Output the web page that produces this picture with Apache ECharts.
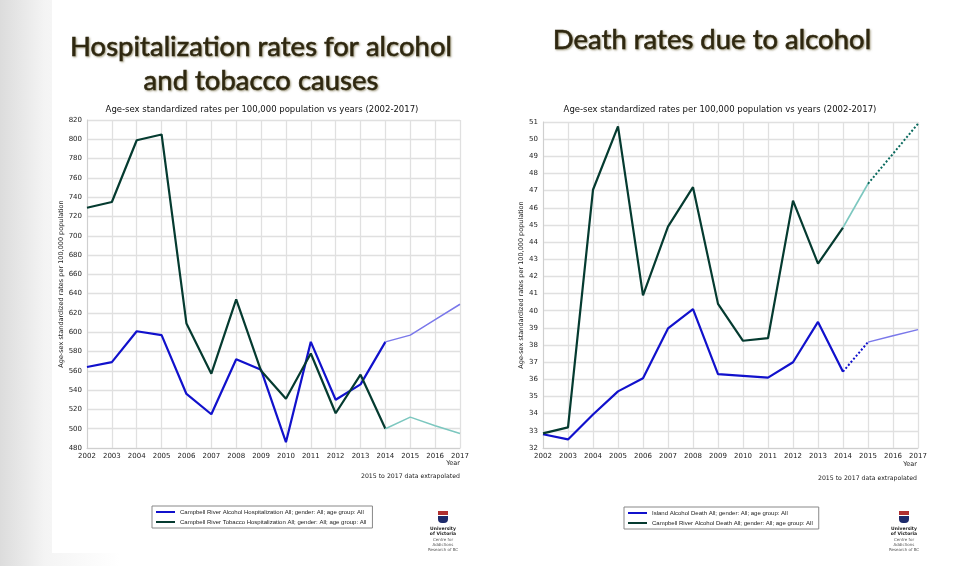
<!DOCTYPE html>
<html>
<head>
<meta charset="utf-8">
<script src="https://cdn.jsdelivr.net/npm/echarts@6/dist/echarts.min.js"></script>
<style>
html,body{margin:0;padding:0;}
body{width:960px;height:566px;background:linear-gradient(to right,#dcdcdc 0px,#f4f4f4 45px,#ffffff 120px,#ffffff 100%);}
#c{width:960px;height:566px;}
</style>
</head>
<body>
<div id="c"></div>
<script>
// ---- data ----
var years = ['2002','2003','2004','2005','2006','2007','2008','2009','2010','2011','2012','2013','2014','2015','2016','2017'];
var hospAlcohol = [564, 569, 601, 597, 536, 515, 572, 561, 486, 590, 530, 546, 590, 597, 613, 629];
var hospTobacco = [729, 735, 799, 805, 609, 557, 634, 560, 531, 578, 516, 556, 500, 512, 503, 495];
var deathIsland = [32.8, 32.5, 33.95, 35.3, 36.07, 38.97, 40.1, 36.3, 36.2, 36.1, 37.0, 39.35, 36.45, 38.17, 38.54, 38.9];
var deathCampbell = [32.85, 33.2, 47.05, 50.75, 40.9, 44.9, 47.2, 40.4, 38.25, 38.4, 46.42, 42.75, 44.85, 47.4, 49.15, 50.9];
var leftTicksMin = 480, leftTicksMax = 820, leftTicksStep = 20;
var rightTicksMin = 32, rightTicksMax = 51, rightTicksStep = 1;

var lastActual = 12; // index of 2014
function part(arr, from, to){ return arr.map(function(v,i){ return (i>=from && i<=to) ? v : null; }); }

var BLUE = '#1111cc', GREEN = '#053b30', LBLUE = '#7a78ea', LTEAL = '#7cc7bf';
var FONT = 'DejaVu Sans';

var chart = echarts.init(document.getElementById('c'));

function xAxis(gi){
  return {
    type:'category', gridIndex:gi, data:years, boundaryGap:false,
    axisLine:{lineStyle:{color:'#cfcfcf'}}, axisTick:{show:false},
    axisLabel:{fontSize:7, color:'#222', fontFamily:FONT, margin:5},
    splitLine:{show:true, lineStyle:{color:'#e0e0e0', width:1.3}}
  };
}
function yAxis(gi,min,max,step){
  return {
    type:'value', gridIndex:gi, min:min, max:max, interval:step,
    name:'Age-sex standardized rates per 100,000 population',
    nameLocation:'middle', nameGap: gi===0 ? 18 : 14,
    nameTextStyle:{fontSize:6.5, color:'#222', fontFamily:FONT},
    axisLine:{show:true, lineStyle:{color:'#cfcfcf'}}, axisTick:{show:false},
    axisLabel:{fontSize:7, color:'#222', fontFamily:FONT, margin:5},
    splitLine:{show:true, lineStyle:{color:'#e0e0e0', width:1.3}}
  };
}
function line(name, data, gi, color, width, type){
  return {
    name:name, type:'line', xAxisIndex:gi, yAxisIndex:gi, data:data,
    symbol:'none', connectNulls:false, silent:true,
    lineStyle:{color:color, width:width, type:type||'solid'},
    itemStyle:{color:color}
  };
}

var L1 = 'Campbell River Alcohol Hospitalization All; gender: All; age group: All';
var L2 = 'Campbell River Tobacco Hospitalization All; gender: All; age group: All';
var R1 = 'Island Alcohol Death All; gender: All; age group: All';
var R2 = 'Campbell River Alcohol Death All; gender: All; age group: All';

function logo(x){
  return [
    {type:'rect', shape:{x:x-5, y:511, width:10, height:4}, style:{fill:'#b03030'}},
    {type:'rect', shape:{x:x-5, y:516, width:10, height:7, r:[0,0,4,4]}, style:{fill:'#1d2a6b'}},
    {type:'text', x:x, y:526, style:{text:'University\nof Victoria', fontSize:4.5, fontWeight:'bold', fill:'#222', align:'center', lineHeight:5, fontFamily:FONT}},
    {type:'text', x:x, y:538, style:{text:'Centre for\nAddictions\nResearch of BC', fontSize:4, fill:'#555', align:'center', lineHeight:4.6, fontFamily:FONT}}
  ];
}

var titleStyle = {fontFamily:'Lato', fontSize:27.5, fontWeight:'normal', fill:'#2e2710', align:'center',
  stroke:'#2e2710', lineWidth:0.6,
  textShadowColor:'rgba(110,100,60,0.55)', textShadowBlur:2, textShadowOffsetX:1, textShadowOffsetY:1};
var legendText = {fontSize:6, color:'#222', fontFamily:'Liberation Sans'};

var option = {
  animation:false,
  backgroundColor:'transparent',
  grid:[
    {left:87, right:500, top:120, bottom:118},
    {left:543, right:42, top:122, bottom:118}
  ],
  xAxis:[xAxis(0), xAxis(1)],
  yAxis:[yAxis(0,leftTicksMin,leftTicksMax,leftTicksStep), yAxis(1,rightTicksMin,rightTicksMax,rightTicksStep)],
  legend:[
    {data:[L1,L2], orient:'vertical', left:152, top:506, itemWidth:19, itemHeight:2, itemGap:4,
     icon:'rect', borderColor:'#888', borderWidth:1, padding:[3,6,3,4], textStyle:legendText},
    {data:[R1,R2], orient:'vertical', left:624, top:507, itemWidth:19, itemHeight:2, itemGap:4,
     icon:'rect', borderColor:'#888', borderWidth:1, padding:[3,6,3,4], textStyle:legendText}
  ],
  series:[
    line(L1, part(hospAlcohol,0,lastActual), 0, BLUE, 2.2),
    line(L2, part(hospTobacco,0,lastActual), 0, GREEN, 2.2),
    line('hosp-alc-extrap', part(hospAlcohol,lastActual,15), 0, LBLUE, 1.5),
    line('hosp-tob-extrap', part(hospTobacco,lastActual,15), 0, LTEAL, 1.5),

    line(R1, part(deathIsland,0,lastActual), 1, BLUE, 2.2),
    line(R2, part(deathCampbell,0,lastActual), 1, GREEN, 2.2),
    line('isl-dot', part(deathIsland,lastActual,lastActual+1), 1, BLUE, 2, 'dotted'),
    line('isl-extrap', part(deathIsland,lastActual+1,15), 1, LBLUE, 1.5),
    line('cr-extrap', part(deathCampbell,lastActual,lastActual+1), 1, LTEAL, 1.6),
    line('cr-dot', part(deathCampbell,lastActual+1,15), 1, '#0a6a5e', 2, 'dotted')
  ],
  graphic:[
    {type:'rect', z:-10, shape:{x:52, y:0, width:421, height:553}, style:{fill:'#ffffff'}},
    {type:'rect', z:-10, shape:{x:500, y:0, width:435, height:556}, style:{fill:'#ffffff'}},
    {type:'text', x:261, y:33, style:Object.assign({text:'Hospitalization rates for alcohol'}, titleStyle)},
    {type:'text', x:261, y:67, style:Object.assign({text:'and tobacco causes'}, titleStyle)},
    {type:'text', x:712, y:26, style:Object.assign({text:'Death rates due to alcohol'}, titleStyle)},
    {type:'text', x:262, y:105, style:{text:'Age-sex standardized rates per 100,000 population vs years (2002-2017)', fontSize:8.5, fill:'#111', align:'center', fontFamily:FONT}},
    {type:'text', x:720, y:105, style:{text:'Age-sex standardized rates per 100,000 population vs years (2002-2017)', fontSize:8.5, fill:'#111', align:'center', fontFamily:FONT}},
    {type:'text', x:460, y:460, style:{text:'Year', fontSize:6.5, fill:'#222', align:'right', fontFamily:FONT}},
    {type:'text', x:917, y:461, style:{text:'Year', fontSize:6.5, fill:'#222', align:'right', fontFamily:FONT}},
    {type:'text', x:460, y:473, style:{text:'2015 to 2017 data extrapolated', fontSize:6.2, fill:'#222', align:'right', fontFamily:FONT}},
    {type:'text', x:917, y:475, style:{text:'2015 to 2017 data extrapolated', fontSize:6.2, fill:'#222', align:'right', fontFamily:FONT}}
  ].concat(logo(443)).concat(logo(904))
};
chart.setOption(option);
</script>
</body>
</html>
